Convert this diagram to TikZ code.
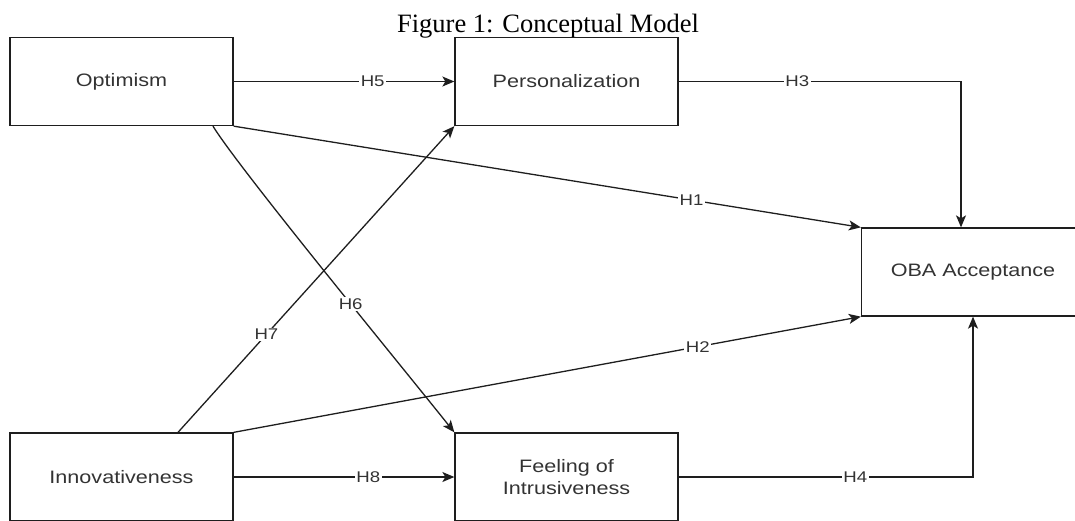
\documentclass[tikz,border=0pt]{standalone}
\usepackage{fontspec}
\setmainfont{Liberation Serif}
\newfontfamily\diagfont[FakeStretch=1.2]{Liberation Sans}
\usepackage{tikz}
\usetikzlibrary{arrows.meta}
\definecolor{txtgray}{HTML}{333333}
\definecolor{linegray}{HTML}{1E1E1E}
\tikzstyle{box} = [draw=linegray, line width=1.3pt, rectangle, minimum width=223pt, minimum height=88pt, inner sep=0pt, text=txtgray, font=\fontsize{18}{22}\diagfont, align=center]
\tikzstyle{arrow} = [draw=linegray, line width=1.3pt, -{Stealth[length=12pt,width=10pt,inset=3pt]}]
\tikzstyle{hyp} = [fill=white, inner sep=1.5pt, text=txtgray, font=\fontsize{15.5}{18}\diagfont]

\begin{document}
\begin{tikzpicture}[x=1pt, y=-1pt]
        \clip (0,0) rectangle (1075,520);
        % Node positions
        \node (title) [anchor=base] at (548,32) {\fontsize{26.5}{30}\selectfont Figure 1: Conceptual Model};
        \node[box] (opt) at (121.5,81.5) {Optimism};
        \node[box] (pers) at (566.5,81.5) {Personalization};
        \node[box] (inno) at (121.5,477) {Innovativeness};
        \node[box] (feel) at (566.5,477) {Feeling of\\Intrusiveness};
        \node[box] (oba) at (973,272) {OBA Acceptance};

        % Hypotheses
        \draw[arrow] (opt.east) -- node[hyp, pos=0.63] {H5} (pers.west);
        \draw[arrow] (inno.east) -- node[hyp, pos=0.61] {H8} (feel.west);
        \draw[arrow] (pers.east) -| node[hyp, pos=0.21] {H3} ([xshift=-12pt]oba.north);
        \draw[arrow] (feel.east) -| node[hyp, pos=0.3] {H4} (oba.south);
        \draw[arrow] (opt.south east) -- node[hyp, pos=0.73] {H1} (oba.north west);
        \draw[arrow] (inno.north east) -- node[hyp, pos=0.74] {H2} (oba.south west);
        \draw[arrow] ([xshift=56.5pt]inno.north) -- node[hyp, pos=0.32] {H7} (pers.south west);
        \draw[arrow] ([xshift=91.5pt]opt.south) .. controls +(25,41) and +(-60,-75) .. node[hyp, pos=0.6] {H6} (feel.north west);
\end{tikzpicture}
\end{document}
